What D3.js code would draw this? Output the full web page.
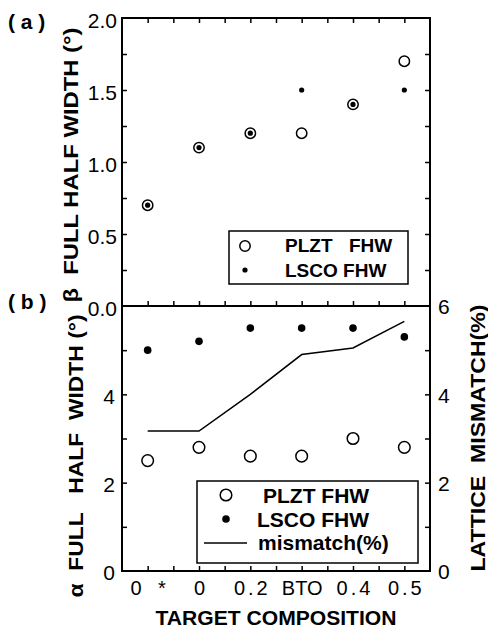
<!DOCTYPE html>
<html>
<head>
<meta charset="utf-8">
<script src="https://cdn.jsdelivr.net/npm/d3@7"></script>
<style>
  body { margin: 0; background: #fff; }
  text { font-family: "Liberation Sans", Arial, sans-serif; fill: #000; }
  .bold { font-weight: bold; }
</style>
</head>
<body>
<svg width="488" height="632"></svg>
<script>
// data
const categories = ["0 *", "0", "0.2", "BTO", "0.4", "0.5"];
const plztTop = [0.7, 1.1, 1.2, 1.2, 1.4, 1.7];
const lscoTop = [0.7, 1.1, 1.2, 1.5, 1.4, 1.5];
const plztBottom = [2.5, 2.8, 2.6, 2.6, 3.0, 2.8];
const lscoBottom = [5.0, 5.2, 5.5, 5.5, 5.5, 5.3];
const mismatch = [3.17, 3.17, 4.0, 4.9, 5.05, 5.65];
const topTicks = [0, 0.5, 1.0, 1.5, 2.0];
const bottomTicks = [0, 2, 4];
const rightTicks = [0, 2, 4, 6];

const svg = d3.select("svg");
const pLeft = 122, pRight = 430, pTop = 18, pMid = 306, pBottom = 571;

const x = d3.scalePoint().domain(categories).range([pLeft, pRight]).padding(0.5);
const xl = d3.scaleLinear().domain([-0.5, categories.length - 0.5]).range([pLeft, pRight]);
const yTop = d3.scaleLinear().domain([0, 2]).range([pMid, pTop]);
const yBot = d3.scaleLinear().domain([0, 6]).range([pBottom, pMid]);

const minorX = d3.range(0, categories.length - 0.5, 0.5);

function clean(g) {
  g.select(".domain").remove();
  g.selectAll(".tick line").attr("stroke", "#000").attr("stroke-width", 1.5);
}

// top panel ticks
svg.append("g").attr("transform", `translate(0,${pTop})`)
  .call(d3.axisTop(xl).tickValues(minorX).tickSize(-5).tickFormat("")).call(clean);
svg.append("g").attr("transform", `translate(0,${pMid})`)
  .call(d3.axisBottom(xl).tickValues(minorX).tickSize(-5).tickFormat("")).call(clean);
svg.append("g").attr("transform", `translate(${pLeft},0)`)
  .call(d3.axisLeft(yTop).tickValues(d3.range(0.25, 2, 0.25)).tickSize(-5).tickFormat("")).call(clean);
svg.append("g").attr("transform", `translate(${pRight},0)`)
  .call(d3.axisRight(yTop).tickValues(d3.range(0.25, 2, 0.25)).tickSize(-5).tickFormat("")).call(clean);

// bottom panel ticks
svg.append("g").attr("transform", `translate(0,${pBottom})`)
  .call(d3.axisBottom(xl).tickValues(minorX).tickSize(-5).tickFormat("")).call(clean);
svg.append("g").attr("transform", `translate(${pLeft},0)`)
  .call(d3.axisLeft(yBot).tickValues([1, 2, 3, 4, 5]).tickSize(-5).tickFormat("")).call(clean);
svg.append("g").attr("transform", `translate(${pRight},0)`)
  .call(d3.axisRight(yBot).tickValues([1, 2, 3, 4, 5]).tickSize(-5).tickFormat("")).call(clean);

// tick labels
const topLab = svg.append("g").attr("transform", `translate(${pLeft},0)`)
  .call(d3.axisLeft(yTop).tickValues(topTicks).tickSize(0).tickPadding(5).tickFormat(d3.format(".1f")));
topLab.select(".domain").remove();
topLab.selectAll("text").attr("font-size", 21).attr("dy", "0.45em")
  .style("font-family", "Liberation Sans, Arial, sans-serif");

const botLab = svg.append("g").attr("transform", `translate(${pLeft},0)`)
  .call(d3.axisLeft(yBot).tickValues(bottomTicks).tickSize(0).tickPadding(7).tickFormat(d3.format("d")));
botLab.select(".domain").remove();
botLab.selectAll("text").attr("font-size", 21).attr("dy", "0.42em")
  .style("font-family", "Liberation Sans, Arial, sans-serif");

const rightLab = svg.append("g").attr("transform", `translate(${pRight},0)`)
  .call(d3.axisRight(yBot).tickValues(rightTicks).tickSize(0).tickPadding(8).tickFormat(d3.format("d")));
rightLab.select(".domain").remove();
rightLab.selectAll("text").attr("font-size", 21).attr("dy", "0.38em")
  .style("font-family", "Liberation Sans, Arial, sans-serif");

const xLab = svg.append("g").attr("transform", `translate(0,${pBottom})`)
  .call(d3.axisBottom(x).tickSize(0).tickPadding(10));
xLab.select(".domain").remove();
xLab.selectAll("text").attr("font-size", 20)
  .style("font-family", "Liberation Sans, Arial, sans-serif")
  .style("letter-spacing", d => d === "BTO" ? "0px" : "3px")
  .style("word-spacing", "5px")
  .attr("dx", d => d === "BTO" ? 0 : 1.5);

// frames
svg.append("rect").attr("x", pLeft).attr("y", pTop).attr("width", pRight - pLeft).attr("height", pMid - pTop)
  .attr("fill", "none").attr("stroke", "#000").attr("stroke-width", 2);
svg.append("rect").attr("x", pLeft).attr("y", pMid).attr("width", pRight - pLeft).attr("height", pBottom - pMid)
  .attr("fill", "none").attr("stroke", "#000").attr("stroke-width", 2);

// top panel marks
svg.append("g").selectAll("circle").data(plztTop).join("circle")
  .attr("cx", (d, i) => x(categories[i])).attr("cy", d => yTop(d)).attr("r", 5.2)
  .attr("fill", "none").attr("stroke", "#000").attr("stroke-width", 1.5);
svg.append("g").selectAll("circle").data(lscoTop).join("circle")
  .attr("cx", (d, i) => x(categories[i])).attr("cy", d => yTop(d)).attr("r", 2.6).attr("fill", "#000");

// bottom panel marks
const line = d3.line().x((d, i) => x(categories[i])).y(d => yBot(d));
svg.append("path").datum(mismatch).attr("d", line)
  .attr("fill", "none").attr("stroke", "#000").attr("stroke-width", 1.5);
svg.append("g").selectAll("circle").data(plztBottom).join("circle")
  .attr("cx", (d, i) => x(categories[i])).attr("cy", d => yBot(d)).attr("r", 5.8)
  .attr("fill", "#fff").attr("stroke", "#000").attr("stroke-width", 1.5);
svg.append("g").selectAll("circle").data(lscoBottom).join("circle")
  .attr("cx", (d, i) => x(categories[i])).attr("cy", d => yBot(d)).attr("r", 3.8).attr("fill", "#000");

// legend (a)
const la = svg.append("g");
la.append("rect").attr("x", 229).attr("y", 231).attr("width", 179).attr("height", 53)
  .attr("fill", "#fff").attr("stroke", "#000").attr("stroke-width", 1.5);
la.append("circle").attr("cx", 245).attr("cy", 246).attr("r", 5.2)
  .attr("fill", "none").attr("stroke", "#000").attr("stroke-width", 1.5);
la.append("circle").attr("cx", 245).attr("cy", 270).attr("r", 2.6).attr("fill", "#000");
const la1 = la.append("text").attr("class", "bold").attr("y", 252).attr("font-size", 19);
la1.append("tspan").attr("x", 285).text("PLZT");
la1.append("tspan").attr("x", 349).text("FHW");
la.append("text").attr("class", "bold").attr("x", 285).attr("y", 277).attr("font-size", 19).text("LSCO FHW");

// legend (b)
const lb = svg.append("g");
lb.append("rect").attr("x", 197).attr("y", 481).attr("width", 221).attr("height", 82)
  .attr("fill", "#fff").attr("stroke", "#000").attr("stroke-width", 1.5);
lb.append("circle").attr("cx", 226).attr("cy", 495).attr("r", 5.8)
  .attr("fill", "none").attr("stroke", "#000").attr("stroke-width", 1.5);
lb.append("circle").attr("cx", 226).attr("cy", 519).attr("r", 3.8).attr("fill", "#000");
lb.append("line").attr("x1", 204).attr("x2", 247).attr("y1", 543).attr("y2", 543)
  .attr("stroke", "#000").attr("stroke-width", 1.5);
lb.append("text").attr("class", "bold").attr("x", 263).attr("y", 503).attr("font-size", 21).text("PLZT FHW");
lb.append("text").attr("class", "bold").attr("x", 257).attr("y", 527).attr("font-size", 21).text("LSCO FHW");
lb.append("text").attr("class", "bold").attr("x", 258).attr("y", 550).attr("font-size", 21).text("mismatch(%)");

// panel letters
svg.append("text").attr("class", "bold").attr("x", 8).attr("y", 29).attr("font-size", 21)
  .style("white-space", "pre").text("( a )");
svg.append("text").attr("class", "bold").attr("x", 8).attr("y", 309).attr("font-size", 21)
  .style("white-space", "pre").text("( b )");

// axis titles
function vtitle(cx, cy, len, txt) {
  svg.append("text").attr("class", "bold")
    .attr("transform", `translate(${cx},${cy}) rotate(-90)`)
    .attr("text-anchor", "middle").attr("font-size", 21)
    .attr("textLength", len).attr("lengthAdjust", "spacingAndGlyphs")
    .style("white-space", "pre").text(txt);
}
vtitle(78, 165, 275, "β  FULL HALF WIDTH (°)");
vtitle(83, 456, 283, "α  FULL   HALF  WIDTH (°)");
vtitle(485, 438, 267, "LATTICE  MISMATCH(%)");

svg.append("text").attr("class", "bold").attr("x", 276).attr("y", 625)
  .attr("text-anchor", "middle").attr("font-size", 20)
  .attr("textLength", 241).attr("lengthAdjust", "spacingAndGlyphs")
  .text("TARGET COMPOSITION");
</script>
</body>
</html>
